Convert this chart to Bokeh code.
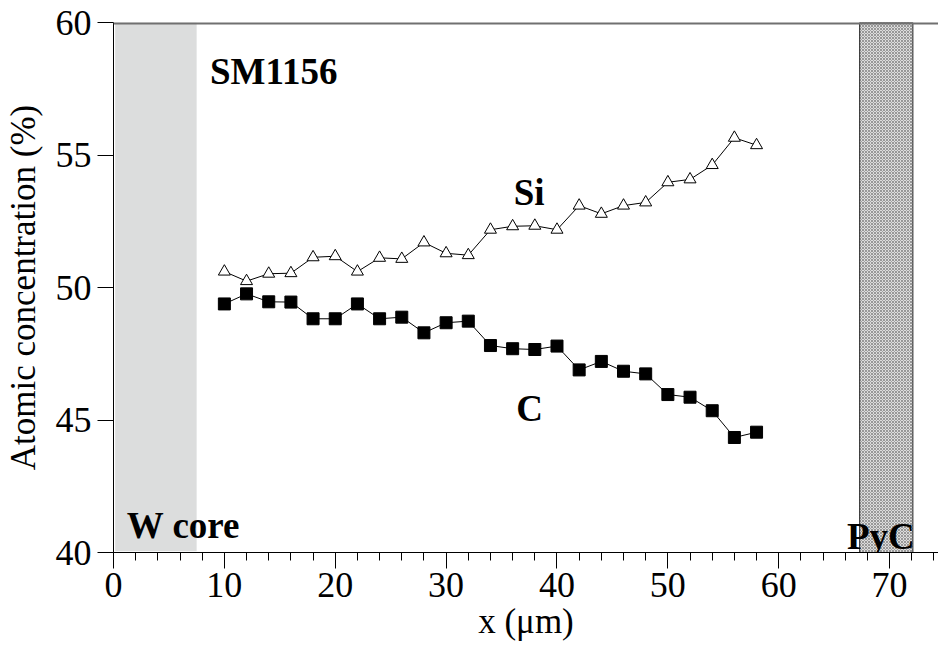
from bokeh.plotting import figure
from bokeh.models import Range1d, Span, FixedTicker
from bokeh.core.properties import value
from bokeh.embed import file_html
from bokeh.resources import INLINE

# Depth profile across the SiC layer (sample SM1156)
x_um = [10, 12, 14, 16, 18, 20, 22, 24, 26, 28, 30, 32, 34,
        36, 38, 40, 42, 44, 46, 48, 50, 52, 54, 56, 58]
si_pct = [50.60, 50.24, 50.52, 50.54, 51.14, 51.18, 50.60, 51.12, 51.08, 51.70,
          51.29, 51.22, 52.18, 52.31, 52.33, 52.18, 53.09, 52.78, 53.09, 53.21,
          53.97, 54.08, 54.62, 55.65, 55.37]
c_pct = [49.38, 49.76, 49.46, 49.45, 48.82, 48.82, 49.38, 48.82, 48.88, 48.29,
         48.67, 48.73, 47.81, 47.69, 47.66, 47.79, 46.89, 47.21, 46.84, 46.74,
         45.96, 45.86, 45.35, 44.34, 44.54]

# Regions of the fibre: tungsten core and pyrocarbon coating
w_core = (0.15, 7.5)
pyc = (67.3, 72.1)

x_ticks = [0, 10, 20, 30, 40, 50, 60, 70]
y_ticks = [40, 45, 50, 55, 60]

SERIF = "Liberation Serif"

p = figure(width=938, height=653, output_backend="svg", toolbar_location=None,
           x_range=Range1d(0, 74.41), y_range=Range1d(40, 60),
           min_border_left=112, min_border_right=0, min_border_top=22,
           min_border_bottom=101)
p.outline_line_color = None
p.grid.visible = False
p.background_fill_color = "white"
p.border_fill_color = "white"

# shaded zones
p.quad(left=[w_core[0]], right=[w_core[1]], bottom=[40.05], top=[60],
       fill_color="#dcdddd", line_color=None)
p.quad(left=[pyc[0]], right=[pyc[1]], bottom=[40], top=[60],
       fill_color="#dddddd", hatch_pattern="diagonal_cross", hatch_scale=3,
       hatch_color="#7a7a7a", hatch_weight=0.7,
       line_color="#222222", line_width=1)

# top frame edge
p.add_layout(Span(location=60, dimension="width", line_color="#707070", line_width=4))

# Si and C profiles
p.line(x_um, si_pct, line_color="black", line_width=1)
p.scatter(x_um, si_pct, marker="triangle", size=12, fill_color="white",
          line_color="black", line_width=1)
p.line(x_um, c_pct, line_color="black", line_width=1)
p.scatter(x_um, c_pct, marker="square", size=12, fill_color="black",
          line_color="black")

# annotations
labels = [("SM1156", 8.70, 58.16), ("Si", 36.09, 53.57), ("C", 36.33, 45.42),
          ("W core", 1.20, 41.02), ("PyC", 66.15, 40.60)]
for txt, lx, ly in labels:
    p.text(x=[lx], y=[ly], text=[txt], text_font=value(SERIF),
           text_font_style="bold", text_font_size="37px",
           text_align="left", text_baseline="alphabetic", text_color="black")

# axes
xa = p.xaxis[0]
xa.ticker = FixedTicker(ticks=x_ticks,
                        minor_ticks=[v for v in range(0, 76, 2)])
xa.axis_label = "x (μm)"
ya = p.yaxis[0]
ya.ticker = FixedTicker(ticks=y_ticks, minor_ticks=[])
ya.axis_label = "Atomic concentration (%)"

for ax in (xa, ya):
    ax.axis_line_color = "black"
    ax.axis_line_width = 1
    ax.major_tick_line_color = "black"
    ax.major_tick_out = 16
    ax.major_tick_in = 0
    ax.minor_tick_line_color = "black"
    ax.minor_tick_out = 8
    ax.minor_tick_in = 0
    ax.major_label_text_font = SERIF
    ax.major_label_text_font_size = "36px"
    ax.major_label_text_color = "black"
    ax.axis_label_text_font = SERIF
    ax.axis_label_text_font_size = "35px"
    ax.axis_label_text_font_style = "normal"
    ax.axis_label_text_color = "black"

xa.major_label_standoff = 4
xa.axis_label_standoff = 2
ya.major_label_standoff = 6
ya.axis_label_standoff = 10

open("out.html", "w").write(file_html(p, INLINE))
